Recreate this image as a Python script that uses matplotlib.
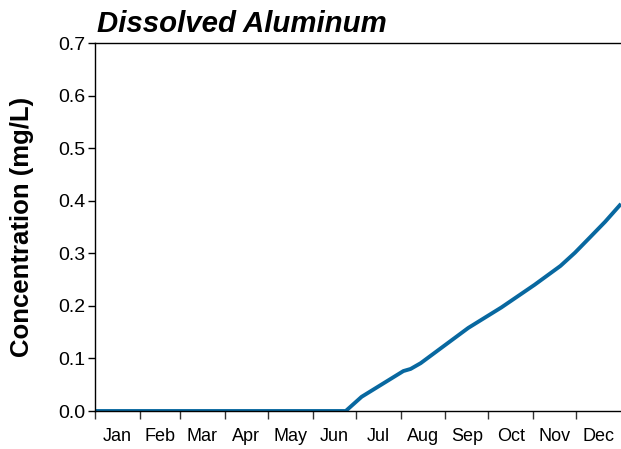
import numpy as np
import matplotlib.pyplot as plt
from matplotlib.ticker import FixedLocator, NullFormatter, FixedFormatter

plt.rcParams['font.family'] = ['Liberation Sans', 'DejaVu Sans']

months = ['Jan', 'Feb', 'Mar', 'Apr', 'May', 'Jun',
          'Jul', 'Aug', 'Sep', 'Oct', 'Nov', 'Dec']
month_days = [31, 28, 31, 30, 31, 30, 31, 31, 30, 31, 30, 31]

# day of year vs dissolved aluminum (mg/L)
day = [0, 174, 185, 214, 219, 226, 259, 282, 305, 323, 333, 343, 354, 365]
conc = [0.0, 0.0, 0.027, 0.076, 0.080, 0.091, 0.158, 0.197, 0.240,
        0.276, 0.301, 0.329, 0.360, 0.394]

bounds = np.concatenate([[0], np.cumsum(month_days)])
centers = (bounds[:-1] + bounds[1:]) / 2

fig = plt.figure(figsize=(6.21, 4.49), dpi=100)
ax = fig.add_axes([95 / 621, 1 - 411 / 449, 526 / 621, 368 / 449])

ax.plot(day, conc, color='#0868a0', lw=2.8, solid_capstyle='butt',
        solid_joinstyle='round')

ax.set_xlim(0, 365)
ax.set_ylim(0, 0.7)
ax.set_yticks(np.arange(0, 0.71, 0.1))
ax.set_yticklabels(['%.1f' % v for v in np.arange(0, 0.71, 0.1)])

ax.xaxis.set_major_locator(FixedLocator(bounds[:-1]))
ax.xaxis.set_major_formatter(NullFormatter())
ax.xaxis.set_minor_locator(FixedLocator(centers))
ax.xaxis.set_minor_formatter(FixedFormatter(months))
ax.tick_params(axis='x', which='major', length=6, width=1, color='#333333')
ax.tick_params(axis='x', which='minor', length=0, pad=12, labelsize=13)
ax.tick_params(axis='y', length=5, width=1, labelsize=14, pad=2)

ax.spines['right'].set_visible(False)
for s in ['left', 'top', 'bottom']:
    ax.spines[s].set_linewidth(1)

ax.set_ylabel('Concentration (mg/L)', fontsize=18.5, fontweight='bold', labelpad=17)
ax.set_title('Dissolved Aluminum', loc='left', fontsize=21.2,
             fontweight='bold', fontstyle='italic', pad=8, x=0.003)

fig.savefig('out.png', dpi=100)
